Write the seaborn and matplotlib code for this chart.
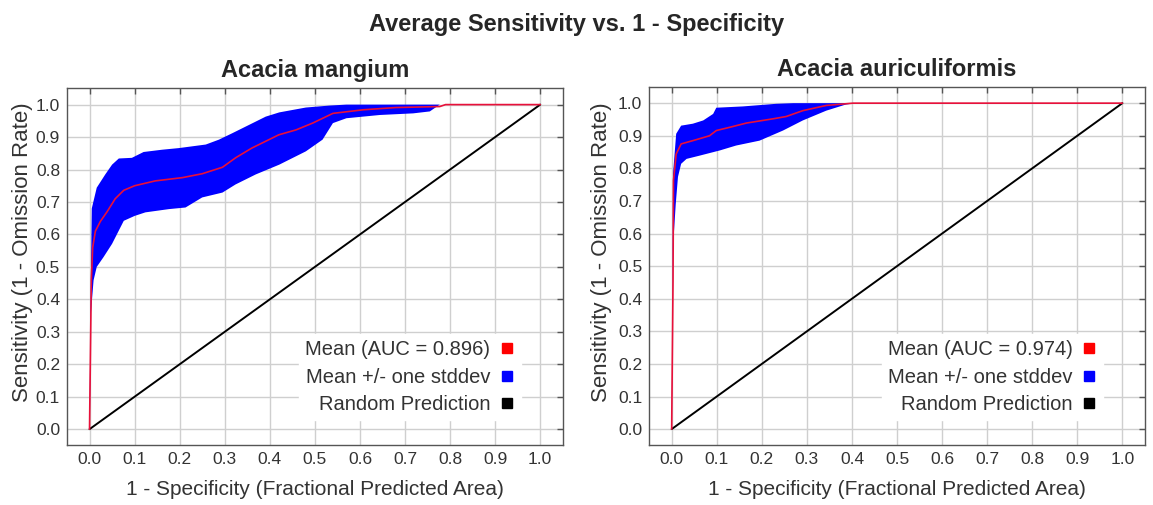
import numpy as np
import pandas as pd
import matplotlib
matplotlib.use("Agg")
import matplotlib.pyplot as plt
from matplotlib.lines import Line2D
import seaborn as sns

sns.set_style("white")
plt.rcParams['font.family'] = ['Liberation Sans', 'DejaVu Sans']

TITLE_FONT = ['Liberation Sans Narrow', 'Liberation Sans', 'DejaVu Sans']

# ---------------------------------------------------------------
# data
# ---------------------------------------------------------------
species = ["Acacia mangium", "Acacia auriculiformis"]
auc = [0.896, 0.974]

# Acacia mangium
mangium_mean_x = [0.0, 0.004, 0.007, 0.013, 0.024, 0.039, 0.057, 0.076, 0.10, 0.146, 0.206, 0.25,
                  0.295, 0.324, 0.36, 0.42, 0.458, 0.495, 0.54, 0.607, 0.68, 0.777, 0.79, 1.0]
mangium_mean_y = [0.0, 0.46, 0.56, 0.61, 0.64, 0.67, 0.71, 0.736, 0.75, 0.765, 0.775, 0.787,
                  0.807, 0.836, 0.866, 0.907, 0.922, 0.943, 0.973, 0.984, 0.991, 0.994, 1.0, 1.0]
mangium_upper_x = [0.0, 0.002, 0.005, 0.016, 0.035, 0.05, 0.065, 0.094, 0.12, 0.161, 0.198, 0.258,
                   0.287, 0.317, 0.362, 0.391, 0.421, 0.48, 0.532, 0.57, 1.0]
mangium_upper_y = [0.0, 0.36, 0.68, 0.744, 0.785, 0.815, 0.834, 0.836, 0.854, 0.861, 0.866, 0.877,
                   0.892, 0.912, 0.943, 0.963, 0.976, 0.991, 0.997, 1.0, 1.0]
mangium_lower_x = [0.0, 0.001, 0.003, 0.009, 0.016, 0.031, 0.05, 0.065, 0.076, 0.10, 0.124, 0.176,
                   0.213, 0.25, 0.295, 0.324, 0.369, 0.421, 0.48, 0.517, 0.54, 0.57, 0.644, 0.718,
                   0.755, 0.777, 1.0]
mangium_lower_y = [0.0, 0.05, 0.357, 0.459, 0.5, 0.53, 0.571, 0.612, 0.642, 0.657, 0.668, 0.678,
                   0.683, 0.714, 0.729, 0.754, 0.785, 0.815, 0.856, 0.892, 0.943, 0.958, 0.968, 0.973,
                   0.979, 1.0, 1.0]

# Acacia auriculiformis
auri_mean_x = [0.0, 0.003, 0.004, 0.010, 0.021, 0.047, 0.084, 0.099, 0.129, 0.166, 0.225, 0.254,
               0.291, 0.343, 0.402, 1.0]
auri_mean_y = [0.0, 0.455, 0.763, 0.844, 0.875, 0.885, 0.90, 0.916, 0.926, 0.939, 0.952, 0.959,
               0.977, 0.993, 1.0, 1.0]
auri_upper_x = [0.0, 0.002, 0.003, 0.01, 0.021, 0.047, 0.07, 0.092, 0.099, 0.158, 0.232, 0.27, 1.0]
auri_upper_y = [0.0, 0.45, 0.783, 0.906, 0.931, 0.937, 0.947, 0.967, 0.986, 0.99, 0.998, 1.0, 1.0]
auri_lower_x = [0.0, 0.001, 0.003, 0.009, 0.014, 0.021, 0.033, 0.062, 0.107, 0.143, 0.195, 0.247,
                0.291, 0.343, 0.387, 0.41, 1.0]
auri_lower_y = [0.0, 0.148, 0.558, 0.69, 0.774, 0.814, 0.829, 0.839, 0.855, 0.87, 0.885, 0.916,
                0.947, 0.977, 0.996, 1.0, 1.0]

ticks = [round(0.1 * i, 1) for i in range(11)]
random_xy = [0.0, 1.0]

panels = [
    (mangium_mean_x, mangium_mean_y, mangium_upper_x, mangium_upper_y, mangium_lower_x, mangium_lower_y),
    (auri_mean_x, auri_mean_y, auri_upper_x, auri_upper_y, auri_lower_x, auri_lower_y),
]

MEAN_COLOR = '#e8103a'
BAND_COLOR = '#0000ff'
TEXT_COLOR = '#333333'

fig = plt.figure(figsize=(11.53, 5.05), dpi=100)
axes = [fig.add_axes([0.0581, 0.118, 0.430, 0.707]),
        fig.add_axes([0.5630, 0.118, 0.430, 0.710])]
ylabel_x = [-0.068, -0.075]

for ax, name, a, (mx, my, ux, uy, lx, ly), lx_pos in zip(axes, species, auc, panels, ylabel_x):
    # stddev band as one polygon: upper edge then lower edge backwards
    band_x = list(ux) + list(lx[::-1])
    band_y = list(uy) + list(ly[::-1])
    ax.fill(band_x, band_y, color=BAND_COLOR, lw=0, zorder=2)

    sns.lineplot(x=random_xy, y=random_xy, color='black', lw=1.4, ax=ax, zorder=3)
    df_mean = pd.DataFrame({'x': mx, 'y': my})
    sns.lineplot(data=df_mean, x='x', y='y', sort=False, estimator=None,
                 color=MEAN_COLOR, lw=1.2, ax=ax, zorder=4)

    ax.set_xlim(-0.05, 1.05)
    ax.set_ylim(-0.05, 1.05)
    ax.set_xticks(ticks)
    ax.set_yticks(ticks)
    ax.set_xticklabels([f"{t:.1f}" for t in ticks])
    ax.set_yticklabels([f"{t:.1f}" for t in ticks])
    ax.grid(True, color='#cfcfcf', lw=1.0, zorder=0)
    ax.set_axisbelow(True)
    ax.tick_params(direction='in', length=4, width=1, colors='#555555', labelcolor=TEXT_COLOR,
                   labelsize=12.5, top=True, right=True, pad=5)
    for sp in ax.spines.values():
        sp.set_color('#555555')
        sp.set_linewidth(1.0)

    ax.set_xlabel("1 - Specificity (Fractional Predicted Area)", fontsize=15, color=TEXT_COLOR, labelpad=9)
    ax.set_ylabel("Sensitivity (1 - Omission Rate)", fontsize=16, color=TEXT_COLOR)
    ax.yaxis.set_label_coords(lx_pos, 0.54)
    ax.set_title(name, fontsize=17, fontweight='bold', family=TITLE_FONT, pad=8)

    handles = [Line2D([], [], ls='none', marker='s', ms=7, color=c)
               for c in ['#ff0000', BAND_COLOR, 'black']]
    labels = [f"Mean (AUC = {a:.3f})", "Mean +/- one stddev", "Random Prediction"]
    leg = ax.legend(handles, labels, loc='lower right', bbox_to_anchor=(0.915, 0.07),
                    markerfirst=False, frameon=True, fancybox=False, framealpha=1.0,
                    edgecolor='white', facecolor='white', fontsize=14.5,
                    labelspacing=0.42, handlelength=0.8, handletextpad=0.4,
                    borderpad=0.3, borderaxespad=0.0)
    for t in leg.get_texts():
        t.set_color(TEXT_COLOR)

fig.suptitle("Average Sensitivity vs. 1 - Specificity", y=0.975, fontsize=17,
             fontweight='bold', family=TITLE_FONT)

fig.savefig("out.png", dpi=100)
